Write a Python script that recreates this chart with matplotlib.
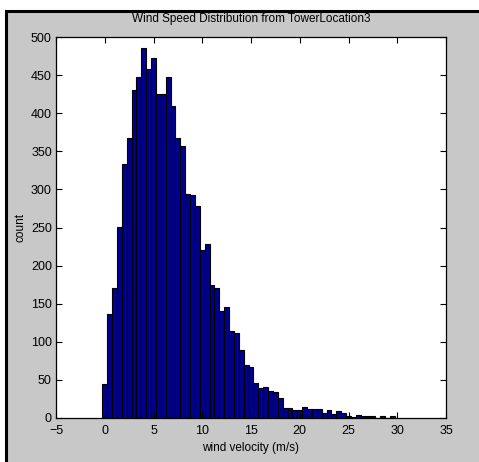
import numpy as np
import matplotlib
matplotlib.use("Agg")
import matplotlib.pyplot as plt
from matplotlib.patches import Rectangle

# bin centres (m/s) and counts
bin_start = 0.0
bin_width = 0.5
counts = [
    44, 137, 170, 251, 333, 368, 431, 447, 485, 458,
    472, 425, 425, 448, 409, 367, 357, 294, 292, 278,
    220, 228, 175, 170, 140, 146, 114, 111, 89, 69,
    67, 46, 40, 41, 35, 34, 26, 13, 13, 10,
    10, 15, 12, 12, 12, 6, 10, 5, 9, 6,
    2, 1, 4, 3, 3, 2, 0, 2, 0, 2,
]
x_ticks = [-5, 0, 5, 10, 15, 20, 25, 30, 35]
y_ticks = [0, 50, 100, 150, 200, 250, 300, 350, 400, 450, 500]

title = "Wind Speed Distribution from TowerLocation3"
x_label = "wind velocity (m/s)"
y_label = "count"


def main():

    """
    main
    """

    W, H = 479, 462
    font = ["Liberation Sans Narrow", "Liberation Sans", "DejaVu Sans"]
    plt.rcParams["font.family"] = font
    plt.rcParams["font.size"] = 8.5

    fig = plt.figure(figsize=(W / 100, H / 100), dpi=100, facecolor="white")

    # grey window area with a dark frame on the left and top
    fig.patches.append(Rectangle(
        (5.5 / W, -0.05), 1.2, 1 - 10.5 / H + 0.05,
        transform=fig.transFigure, facecolor="#c8c8c8",
        edgecolor="black", linewidth=2.2, zorder=-10))

    ax = fig.add_axes([56 / W, 44 / H, 390 / W, 381 / H])
    ax.set_facecolor("white")

    # histogram bars
    centres = bin_start + bin_width * np.arange(len(counts))
    ax.bar(centres, counts, width=bin_width, color="#00008f",
           edgecolor="black", linewidth=0.8)

    ax.set_xlim(-5, 35)
    ax.set_ylim(0, 500)
    ax.set_xticks(x_ticks)
    ax.set_yticks(y_ticks)
    ax.tick_params(direction="in", length=4, width=0.8, colors="black",
                   top=True, right=True, labelsize=9)
    ax.tick_params(axis="x", pad=5)
    ax.tick_params(axis="y", pad=3)
    for s in ax.spines.values():
        s.set_linewidth(0.9)

    # texts
    fig.text(251 / W, 1 - 19 / H, title, ha="center", va="center",
             fontsize=8.5)
    fig.text(251 / W, 1 - 448 / H, x_label, ha="center", va="center",
             fontsize=8.5)
    fig.text(21 / W, 1 - 228 / H, y_label, ha="center", va="center",
             rotation=90, fontsize=8.5)

    fig.savefig("out.png", dpi=100)


if __name__ == "__main__":
    main()
